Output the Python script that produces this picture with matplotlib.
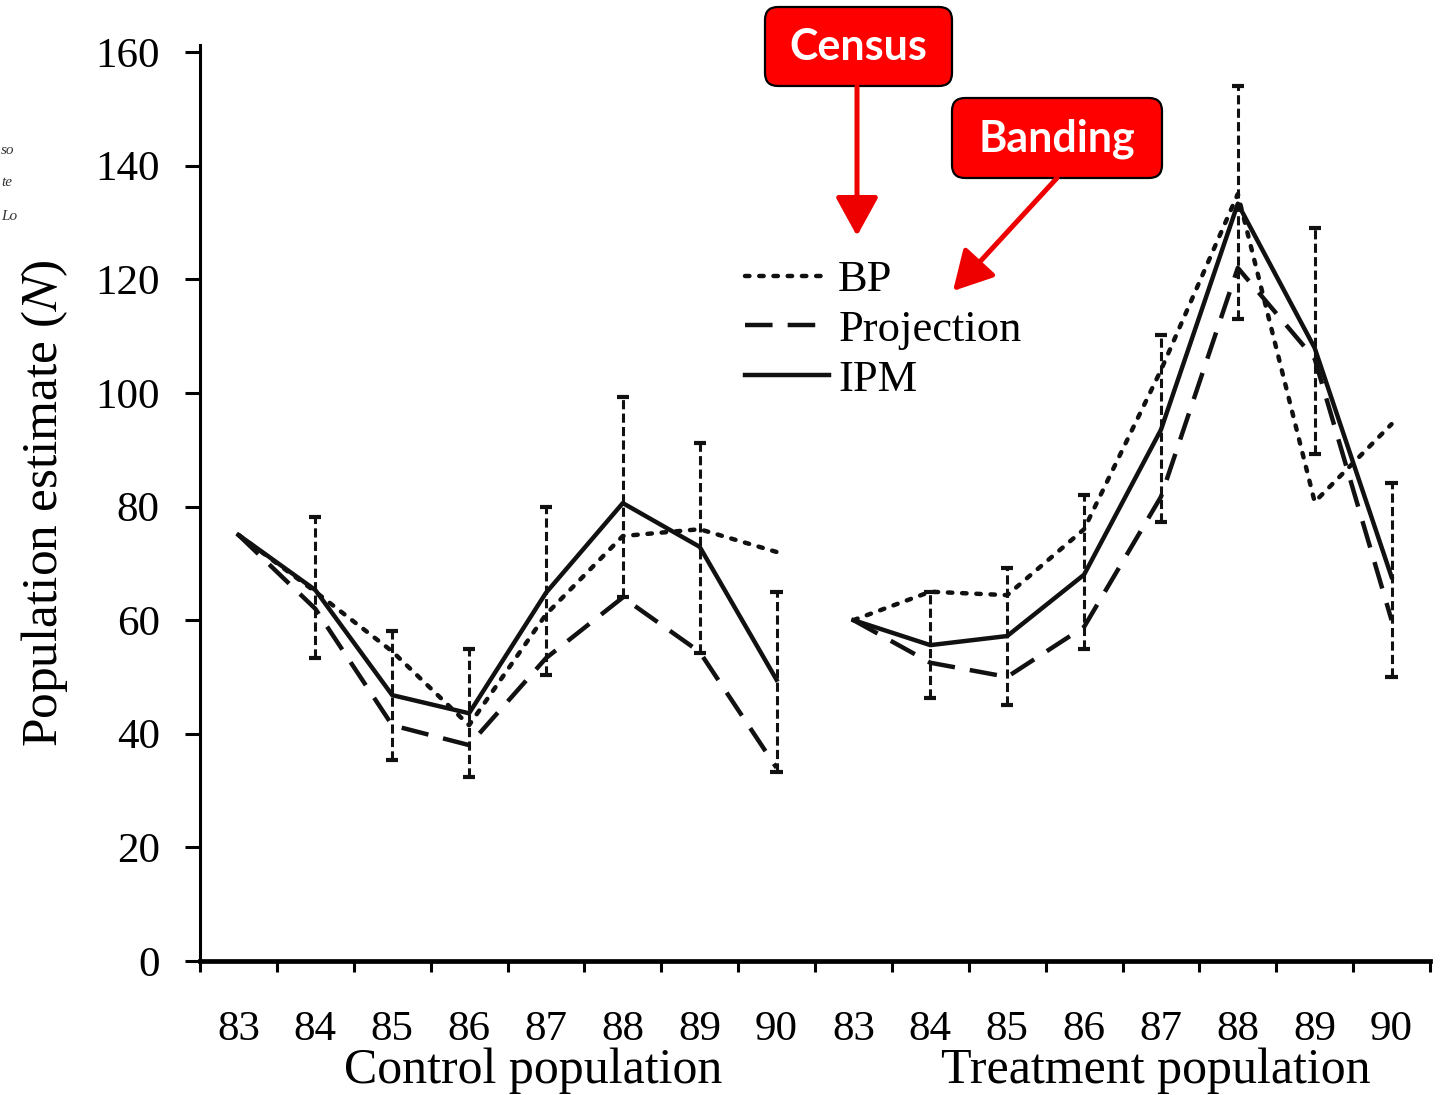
import numpy as np  # Calculos con arreglos
import matplotlib
matplotlib.use("Agg")  # Sin pantalla
import matplotlib.pyplot as plt  # Graficas
from matplotlib.patches import FancyBboxPatch  # Cajas con esquinas redondeadas

# Datos
anos = ['83', '84', '85', '86', '87', '88', '89', '90']
grupos = ['Control population', 'Treatment population']

control_bp = [75, 65, 54.5, 41.5, 61, 74.8, 76, 72]
control_proj = [75, 62, 41.5, 38, 53.3, 64, 54.4, 34]
control_ipm = [75, 65.3, 46.8, 43.6, 64.8, 80.6, 72.9, 49.5]
control_err_bajo = [np.nan, 53.3, 35.4, 32.4, 50.4, 64, 54.2, 33.3]
control_err_alto = [np.nan, 78.2, 58, 55, 80, 99.3, 91.2, 65]

trat_bp = [60, 65, 64.4, 76, 104, 135, 80.8, 94.5]
trat_proj = [60, 52.5, 50, 58.8, 81.7, 122, 106, 60]
trat_ipm = [60, 55.6, 57.2, 68, 93.5, 133.3, 107.9, 67.6]
trat_err_bajo = [np.nan, 46.3, 45, 55, 77.3, 113, 89.3, 50]
trat_err_alto = [np.nan, 65, 69.2, 82, 110.2, 154, 129, 84.2]

SERIF = 'Liberation Serif'
plt.rcParams['font.family'] = SERIF
plt.rcParams['mathtext.fontset'] = 'stix'

fig = plt.figure(figsize=(14.48, 10.95), dpi=100)
alto_ejes = 909 * 161.3 / 160  # 0..160 ocupa 909 px en la original
ax = fig.add_axes([200 / 1448, 1 - 961 / 1095, 1230 / 1448, alto_ejes / 1095])

estilo_bp = dict(color='#111111', lw=3.2, linestyle=(0, (1, 2.2)), dash_capstyle='round')
estilo_proj = dict(color='#111111', lw=3.2, linestyle=(0, (6.2, 3.4)))
estilo_ipm = dict(color='#111111', lw=3.2, linestyle='-')

datos = [
    (control_bp, control_proj, control_ipm, control_err_bajo, control_err_alto),
    (trat_bp, trat_proj, trat_ipm, trat_err_bajo, trat_err_alto),
]

for i, (bp, proj, ipm, bajo, alto) in enumerate(datos):
    x = np.arange(len(anos)) + 0.5 + i * len(anos)  # posiciones centradas entre marcas
    l_bp, = ax.plot(x, bp, label='BP', **estilo_bp)
    l_proj, = ax.plot(x, proj, label='Projection', **estilo_proj)
    l_ipm, = ax.plot(x, ipm, label='IPM', **estilo_ipm)
    # barras de error discontinuas con topes
    ax.vlines(x, bajo, alto, color='#111111', lw=2.2, linestyle=(0, (3, 1.4)), zorder=3)
    ax.hlines(bajo, x - 0.08, x + 0.08, color='#111111', lw=3, zorder=3)
    ax.hlines(alto, x - 0.08, x + 0.08, color='#111111', lw=3, zorder=3)

ax.set_xlim(0, 2 * len(anos))
ax.set_ylim(0, 161.3)
ax.spines['top'].set_visible(False)
ax.spines['right'].set_visible(False)
ax.spines['left'].set_linewidth(2.2)
ax.spines['bottom'].set_linewidth(3.4)

ax.set_yticks(np.arange(0, 161, 20))
ax.tick_params(axis='y', direction='out', length=11, width=2.2, pad=18, labelsize=31)
# marcas mayores en los limites, etiquetas en marcas menores
ax.set_xticks(np.arange(0, 2 * len(anos) + 1))
ax.set_xticklabels([])
ax.set_xticks(np.arange(2 * len(anos)) + 0.5, minor=True)
ax.set_xticklabels(anos * 2, minor=True)
ax.tick_params(axis='x', which='major', direction='out', length=8, width=2.2)
ax.tick_params(axis='x', which='minor', length=0, pad=36, labelsize=31)

ax.set_ylabel(r'Population estimate ($\mathit{N}$)', fontsize=37)
ax.yaxis.set_label_coords(-0.106, 0.5)

ax.text(4.34, -19.4, grupos[0], fontsize=36, ha='center', va='center', clip_on=False)
ax.text(12.43, -19.4, grupos[1], fontsize=36, ha='center', va='center', clip_on=False)

ax.legend(handles=[l_bp, l_proj, l_ipm], loc='upper left', bbox_to_anchor=(0.443, 0.765),
          frameon=False, fontsize=32, handlelength=1.9, handletextpad=0.2,
          labelspacing=0.22, borderpad=0, borderaxespad=0)

# capa superior en pixeles de la imagen para cajas y flechas rojas
capa = fig.add_axes([0, 0, 1, 1])
capa.set_xlim(0, 1448)
capa.set_ylim(1095, 0)
capa.axis('off')
capa.patch.set_alpha(0)

cajas = [('Census', 765, 7, 187, 79), ('Banding', 952, 98, 210, 80)]
for texto, cx, cy, cw, ch in cajas:
    capa.add_patch(FancyBboxPatch((cx, cy), cw, ch, boxstyle='round,pad=0,rounding_size=13',
                                  fc='#ff0000', ec='black', lw=1.6))
    capa.text(cx + cw / 2, cy + ch / 2 + 1, texto, color='white', fontsize=31, fontweight='bold',
              family='Lato', ha='center', va='center')

flecha = dict(arrowstyle='-|>,head_length=1.0,head_width=0.55', color='#ee0000', lw=3.6,
              shrinkA=0, shrinkB=0, mutation_scale=24)
capa.annotate('', xy=(857, 236), xytext=(857, 86), arrowprops=flecha)
capa.annotate('', xy=(953, 291), xytext=(1057, 178), arrowprops=flecha)

# restos de texto del borde izquierdo
for t, yy in [('so', 150), ('te', 182), ('Lo', 216)]:
    capa.text(1, yy, t, fontsize=11, style='italic', color='#333333', va='center', ha='left')

fig.savefig('out.png', dpi=100)
